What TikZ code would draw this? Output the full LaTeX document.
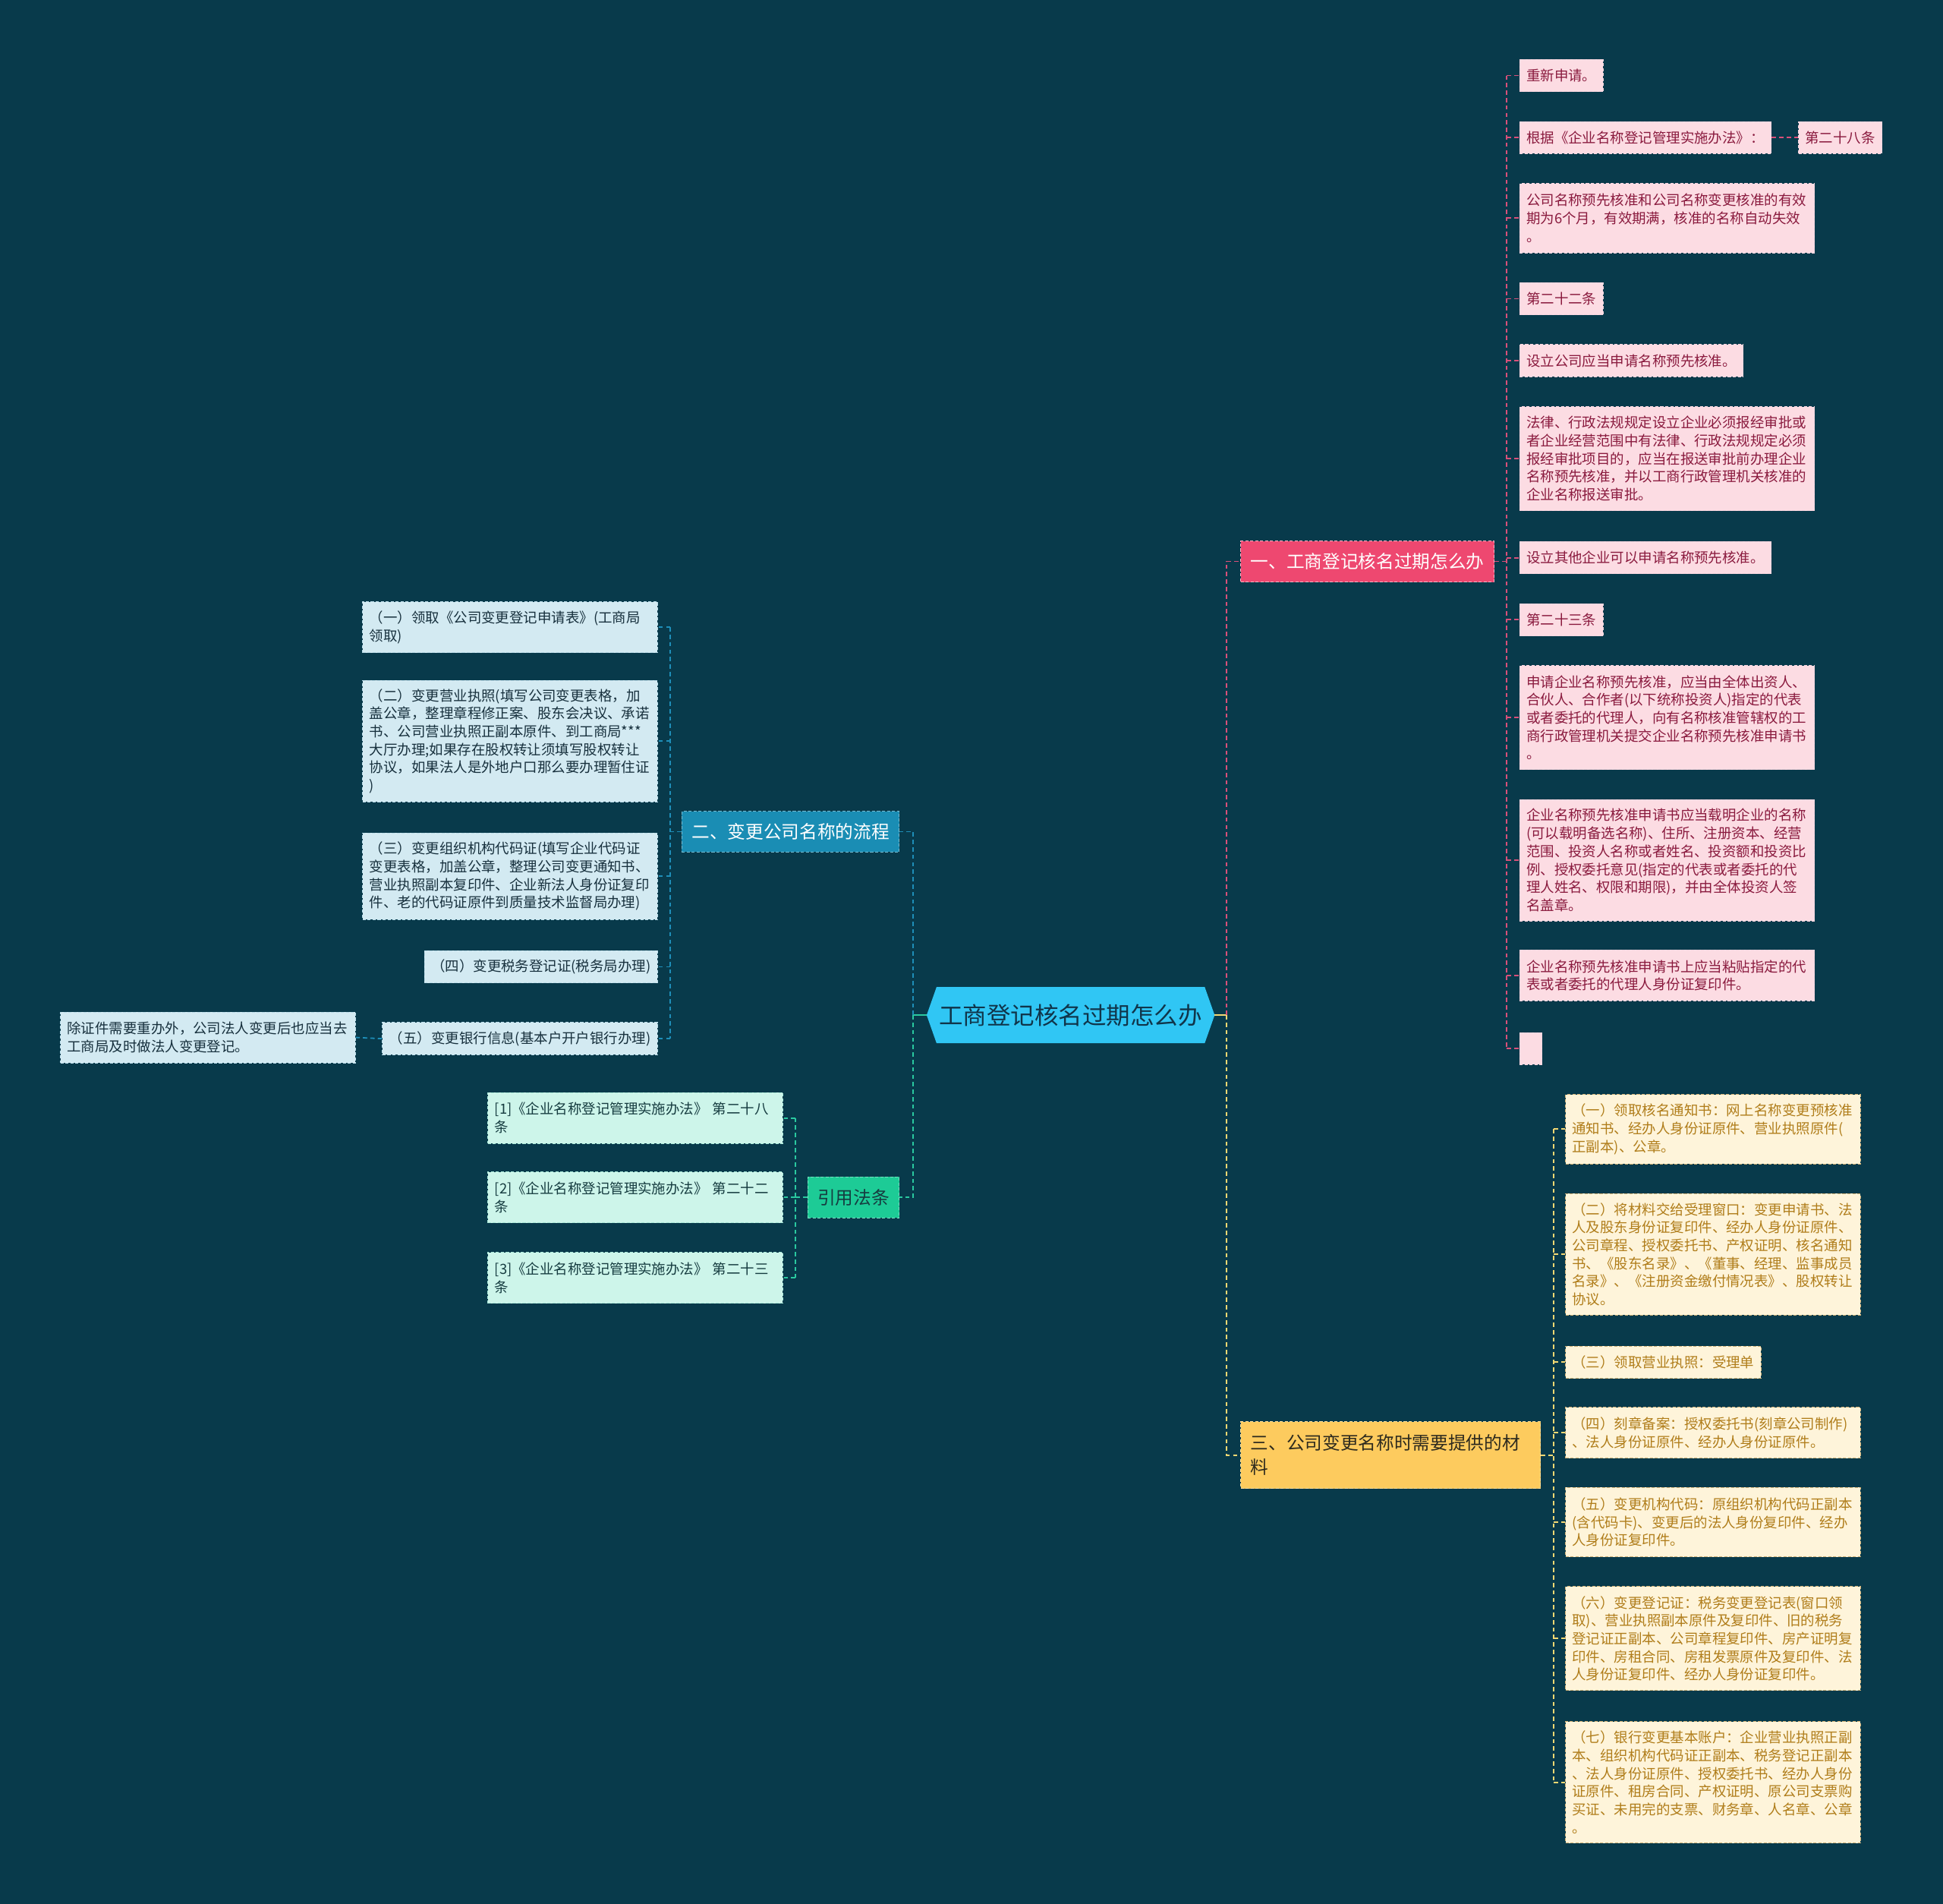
\documentclass[tikz,border=0pt]{standalone}
\usepackage{fontspec}
\newfontfamily\cjk{Noto Sans CJK SC}
\usetikzlibrary{backgrounds}
\definecolor{bg}{HTML}{083A4B}
\definecolor{centerF}{HTML}{30C6F4}
\definecolor{centerT}{HTML}{10354A}
\definecolor{redF}{HTML}{EE4870}
\definecolor{pinkF}{HTML}{FCDCE3}
\definecolor{pinkT}{HTML}{8A1A3E}
\definecolor{pinkL}{HTML}{D9507A}
\definecolor{blueF}{HTML}{1A8DB4}
\definecolor{lblueF}{HTML}{D3EAF2}
\definecolor{blueT}{HTML}{17303D}
\definecolor{blueL}{HTML}{1E8EB8}
\definecolor{grnF}{HTML}{1DCB96}
\definecolor{mintF}{HTML}{CDF5EA}
\definecolor{grnT}{HTML}{163C40}
\definecolor{grnL}{HTML}{2AC9A0}
\definecolor{yelF}{HTML}{FDCB5E}
\definecolor{creamF}{HTML}{FEF4DA}
\definecolor{yelT}{HTML}{B07D1A}
\definecolor{yelL}{HTML}{F4D873}
\definecolor{darkT}{HTML}{2D2A1E}
\tikzset{
  small/.style={font=\cjk\fontsize{11.3pt}{14.5pt}\selectfont},
  box/.style={small, align=left, inner xsep=5.5pt, inner ysep=0pt, minimum height=26pt,
    dash pattern=on 2.5pt off 1.5pt, line width=0.6pt},
  wide/.style={text width=227pt},
  hh2/.style={minimum height=41pt},
  hh3/.style={minimum height=56pt},
  hh4/.style={minimum height=70pt},
  hh5/.style={minimum height=84pt},
  hh6/.style={minimum height=98pt},
  pinkbox/.style={box, fill=pinkF, draw=white!75!pinkL, text=pinkT, anchor=west},
  bluebox/.style={box, fill=lblueF, draw=white!70!blueL, text=blueT, anchor=east},
  mintbox/.style={box, fill=mintF, draw=white!60!grnL, text=grnT, anchor=east},
  yelbox/.style={box, fill=creamF, draw=yelT!60!white, text=yelT, anchor=west},
  branch/.style={font=\cjk\fontsize{14.5pt}{19.5pt}\selectfont, align=left, inner xsep=8pt, inner ysep=0pt,
    minimum height=33pt, dash pattern=on 2.5pt off 1.5pt, line width=0.6pt},
  conn/.style={line width=1.1pt, dash pattern=on 3.5pt off 2.5pt},
  pinkline/.style={conn, draw=pinkL},
  blueline/.style={conn, draw=blueL},
  grnline/.style={conn, draw=grnL},
  yelline/.style={conn, draw=yelL},
}
\begin{document}
\begin{tikzpicture}[x=1pt,y=-1pt]
\begin{pgfonlayer}{background}
\fill[bg] (0,0) rectangle (1568,1536);
\end{pgfonlayer}
\useasboundingbox (0,0) rectangle (1568,1536);

% central node
\node[font=\cjk\fontsize{19.3pt}{22pt}\selectfont, text=centerT, minimum width=232pt, minimum height=45pt, inner sep=0pt] (c) at (864,819) {工商登记核名过期怎么办};
\begin{pgfonlayer}{background}
\fill[centerF] (c.west) -- ([xshift=8pt]c.north west) -- ([xshift=-8pt]c.north east) -- (c.east)
  -- ([xshift=-8pt]c.south east) -- ([xshift=8pt]c.south west) -- cycle;
\end{pgfonlayer}
\coordinate (jR) at (990,819);
\coordinate (jL) at (737,819);

% branches
\node[branch, fill=redF, draw=white!60!redF, text=white, anchor=west] (b1) at (1001,453) {一、工商登记核名过期怎么办};
\node[branch, fill=blueF, draw=white!40!blueF, text=white, anchor=east] (b2) at (726,671) {二、变更公司名称的流程};
\node[branch, fill=grnF, draw=white!40!grnF, text=grnT, anchor=east] (b3) at (726,966) {引用法条};
\node[branch, fill=yelF, draw=white!40!yelF, text=darkT, anchor=west, text width=226pt, minimum height=54pt] (b4) at (1001,1174) {三、公司变更名称时需要提供的材\\料};

\draw[line width=1.3pt, yelL] (c.east) -- (jR);
\draw[line width=1.3pt, grnL] (c.west) -- (jL);
\draw[pinkline] (jR) |- (b1.west);
\draw[yelline] (jR) |- (b4.west);
\draw[blueline] (jL) |- (b2.east);
\draw[grnline] (jL) |- (b3.east);

% pink children
\node[pinkbox] (p1) at (1226,61) {重新申请。};
\node[pinkbox] (p2) at (1226,111) {根据《企业名称登记管理实施办法》：};
\node[pinkbox] (p2a) at (1451,111) {第二十八条};
\node[pinkbox, wide, hh3] (p3) at (1226,176) {公司名称预先核准和公司名称变更核准的有效\\期为6个月，有效期满，核准的名称自动失效\\。};
\node[pinkbox] (p4) at (1226,241) {第二十二条};
\node[pinkbox] (p5) at (1226,291) {设立公司应当申请名称预先核准。};
\node[pinkbox, wide, hh5] (p6) at (1226,370) {法律、行政法规规定设立企业必须报经审批或\\者企业经营范围中有法律、行政法规规定必须\\报经审批项目的，应当在报送审批前办理企业\\名称预先核准，并以工商行政管理机关核准的\\企业名称报送审批。};
\node[pinkbox] (p7) at (1226,450) {设立其他企业可以申请名称预先核准。};
\node[pinkbox] (p8) at (1226,500) {第二十三条};
\node[pinkbox, wide, hh5] (p9) at (1226,579) {申请企业名称预先核准，应当由全体出资人、\\合伙人、合作者(以下统称投资人)指定的代表\\或者委托的代理人，向有名称核准管辖权的工\\商行政管理机关提交企业名称预先核准申请书\\。};
\node[pinkbox, wide, hh6] (p10) at (1226,694) {企业名称预先核准申请书应当载明企业的名称\\(可以载明备选名称)、住所、注册资本、经营\\范围、投资人名称或者姓名、投资额和投资比\\例、授权委托意见(指定的代表或者委托的代\\理人姓名、权限和期限)，并由全体投资人签\\名盖章。};
\node[pinkbox, wide, hh2] (p11) at (1226,787) {企业名称预先核准申请书上应当粘贴指定的代\\表或者委托的代理人身份证复印件。};
\node[pinkbox, minimum width=18pt, inner xsep=0pt] (p12) at (1226,846) {};

\coordinate (tp) at (1216,453);
\draw[pinkline] (b1.east) -- (tp);
\draw[pinkline] (tp |- p1.west) -- (tp |- p12.west);
\foreach \n in {p1,p2,p3,p4,p5,p6,p7,p8,p9,p10,p11,p12}
  \draw[pinkline] (tp |- \n.west) -- (\n.west);
\draw[pinkline] (p2.east) -- (p2a.west);

% blue children
\node[bluebox, wide, hh2] (q1) at (531,506) {（一）领取《公司变更登记申请表》(工商局\\领取)};
\node[bluebox, wide, hh6] (q2) at (531,598) {（二）变更营业执照(填写公司变更表格，加\\盖公章，整理章程修正案、股东会决议、承诺\\书、公司营业执照正副本原件、到工商局***\\大厅办理;如果存在股权转让须填写股权转让\\协议，如果法人是外地户口那么要办理暂住证\\)};
\node[bluebox, wide, hh4] (q3) at (531,707) {（三）变更组织机构代码证(填写企业代码证\\变更表格，加盖公章，整理公司变更通知书、\\营业执照副本复印件、企业新法人身份证复印\\件、老的代码证原件到质量技术监督局办理)};
\node[bluebox] (q4) at (531,780) {（四）变更税务登记证(税务局办理)};
\node[bluebox] (q5) at (531,838) {（五）变更银行信息(基本户开户银行办理)};
\node[bluebox, wide, hh2] (q5a) at (287,837) {除证件需要重办外，公司法人变更后也应当去\\工商局及时做法人变更登记。};

\coordinate (tq) at (541,671);
\draw[blueline] (b2.west) -- (tq);
\draw[blueline] (tq |- q1.east) -- (tq |- q5.east);
\foreach \n in {q1,q2,q3,q4,q5}
  \draw[blueline] (tq |- \n.east) -- (\n.east);
\draw[blueline] (q5.west) -- (q5a.east);

% mint children
\node[mintbox, wide, hh2] (m1) at (632,902) {[1]《企业名称登记管理实施办法》~第二十八\\条};
\node[mintbox, wide, hh2] (m2) at (632,966) {[2]《企业名称登记管理实施办法》~第二十二\\条};
\node[mintbox, wide, hh2] (m3) at (632,1031) {[3]《企业名称登记管理实施办法》~第二十三\\条};

\coordinate (tm) at (642,966);
\draw[grnline] (b3.west) -- (tm);
\draw[grnline] (tm |- m1.east) -- (tm |- m3.east);
\foreach \n in {m1,m2,m3}
  \draw[grnline] (tm |- \n.east) -- (\n.east);

% yellow children
\node[yelbox, wide, hh3] (y1) at (1263,911) {（一）领取核名通知书：网上名称变更预核准\\通知书、经办人身份证原件、营业执照原件(\\正副本)、公章。};
\node[yelbox, wide, hh6] (y2) at (1263,1012) {（二）将材料交给受理窗口：变更申请书、法\\人及股东身份证复印件、经办人身份证原件、\\公司章程、授权委托书、产权证明、核名通知\\书、《股东名录》、《董事、经理、监事成员\\名录》、《注册资金缴付情况表》、股权转让\\协议。};
\node[yelbox] (y3) at (1263,1099) {（三）领取营业执照：受理单};
\node[yelbox, wide, hh2] (y4) at (1263,1156) {（四）刻章备案：授权委托书(刻章公司制作)\\、法人身份证原件、经办人身份证原件。};
\node[yelbox, wide, hh3] (y5) at (1263,1228) {（五）变更机构代码：原组织机构代码正副本\\(含代码卡)、变更后的法人身份复印件、经办\\人身份证复印件。};
\node[yelbox, wide, hh5] (y6) at (1263,1322) {（六）变更登记证：税务变更登记表(窗口领\\取)、营业执照副本原件及复印件、旧的税务\\登记证正副本、公司章程复印件、房产证明复\\印件、房租合同、房租发票原件及复印件、法\\人身份证复印件、经办人身份证复印件。};
\node[yelbox, wide, hh6] (y7) at (1263,1438) {（七）银行变更基本账户：企业营业执照正副\\本、组织机构代码证正副本、税务登记正副本\\、法人身份证原件、授权委托书、经办人身份\\证原件、租房合同、产权证明、原公司支票购\\买证、未用完的支票、财务章、人名章、公章\\。};

\coordinate (ty) at (1254,1174);
\draw[yelline] (b4.east) -- (ty);
\draw[yelline] (ty |- y1.west) -- (ty |- y7.west);
\foreach \n in {y1,y2,y3,y4,y5,y6,y7}
  \draw[yelline] (ty |- \n.west) -- (\n.west);
\end{tikzpicture}
\end{document}
